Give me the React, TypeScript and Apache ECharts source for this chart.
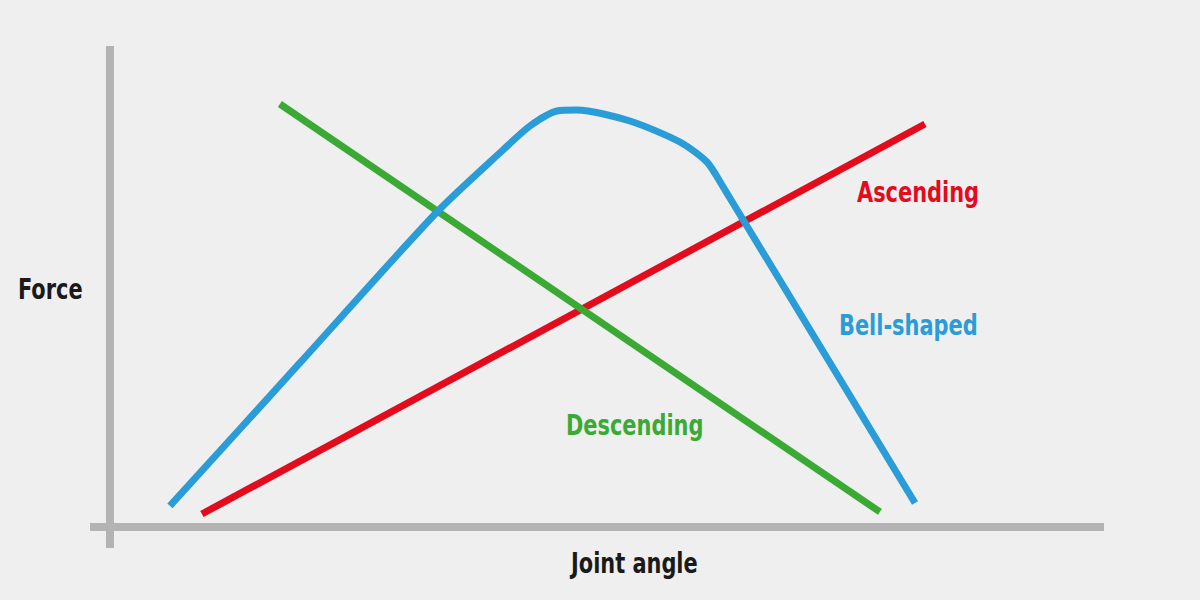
import React, { useEffect, useRef } from "react";
import * as echarts from "echarts";

// Data (x: joint angle units, y: force units; 0..100 scale)
const ascendingX = [9.26, 81.99];
const ascendingY = [2.7, 83.78];
const descendingX = [17.1, 77.46];
const descendingY = [87.94, 3.12];
const bellX = [6.04, 19.11, 32.9, 39.54, 42.25, 44.97, 46.98, 52.31, 57.34, 60.06, 61.57, 80.99];
const bellY = [4.37, 34.1, 65.49, 78.38, 83.37, 86.49, 86.69, 84.41, 80.04, 75.88, 71.1, 4.99];

const labels = [
  { text: "Ascending", x: 857, y: 192, color: "#e30b1c" },
  { text: "Bell-shaped", x: 839, y: 325, color: "#2a9cd8" },
  { text: "Descending", x: 566, y: 425, color: "#3aaa35" },
  { text: "Force", x: 18, y: 289, color: "#1a1a1a" },
  { text: "Joint angle", x: 571, y: 563, color: "#1a1a1a" },
];

const FONT = "'DejaVu Sans Condensed', 'Liberation Sans Narrow', 'Open Sans', sans-serif";

const zip = (xs: number[], ys: number[]) => xs.map((x, i) => [x, ys[i]]);

export default function App() {
  const ref = useRef<HTMLDivElement>(null);
  useEffect(() => {
    if (!ref.current) return;
    const chart = echarts.init(ref.current, undefined, { renderer: "svg" });
    const axisColor = "#b3b3b3";
    chart.setOption({
      animation: false,
      backgroundColor: "#efefef",
      grid: { left: 90, right: 96, top: 46, bottom: 52 },
      xAxis: {
        type: "value",
        min: -2,
        max: 100,
        axisLine: { show: true, onZero: true, lineStyle: { color: axisColor, width: 8, cap: "butt" } },
        axisTick: { show: false },
        axisLabel: { show: false },
        splitLine: { show: false },
      },
      yAxis: {
        type: "value",
        min: -4.37,
        max: 100,
        axisLine: { show: true, onZero: true, lineStyle: { color: axisColor, width: 8, cap: "butt" } },
        axisTick: { show: false },
        axisLabel: { show: false },
        splitLine: { show: false },
      },
      series: [
        {
          name: "Ascending",
          type: "line",
          data: zip(ascendingX, ascendingY),
          showSymbol: false,
          lineStyle: { color: "#e30b1c", width: 7, cap: "butt" },
        },
        {
          name: "Descending",
          type: "line",
          data: zip(descendingX, descendingY),
          showSymbol: false,
          lineStyle: { color: "#3aaa35", width: 7, cap: "butt" },
        },
        {
          name: "Bell-shaped",
          type: "line",
          data: zip(bellX, bellY),
          showSymbol: false,
          smooth: 0.25,
          lineStyle: { color: "#2a9cd8", width: 7, cap: "butt" },
        },
      ],
      graphic: labels.map((l) => ({
        type: "text",
        x: l.x,
        y: l.y,
        scaleX: 0.83,
        style: {
          text: l.text,
          fill: l.color,
          font: `bold 28px ${FONT}`,
          verticalAlign: "middle",
          align: "left",
        },
      })),
    });
    return () => chart.dispose();
  }, []);
  return <div ref={ref} style={{ width: 1200, height: 600, position: "fixed", left: 0, top: 0 }} />;
}
